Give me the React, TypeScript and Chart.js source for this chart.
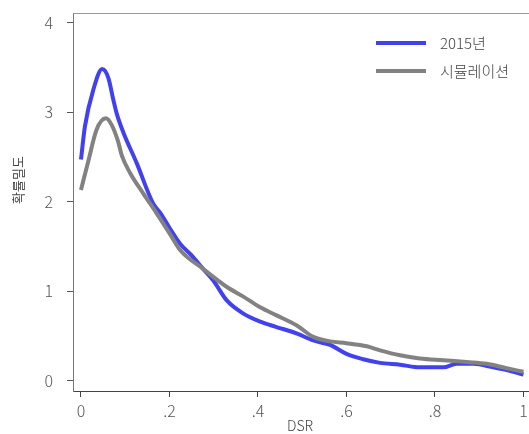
import React, { useEffect, useRef } from "react";
import { Chart, registerables } from "chart.js";

Chart.register(...registerables);

const blueX = [0, 0.009, 0.028, 0.048, 0.062, 0.073, 0.081, 0.096, 0.126, 0.163, 0.18, 0.201, 0.224, 0.25, 0.276, 0.299, 0.329, 0.367, 0.405, 0.442, 0.487, 0.525, 0.563, 0.6, 0.638, 0.676, 0.721, 0.766, 0.819, 0.849, 0.887, 0.932, 0.962, 1.0];
const blueY = [2.47, 2.84, 3.25, 3.48, 3.38, 3.14, 2.98, 2.77, 2.43, 1.98, 1.87, 1.7, 1.53, 1.4, 1.25, 1.12, 0.9, 0.75, 0.66, 0.6, 0.53, 0.45, 0.4, 0.3, 0.24, 0.2, 0.18, 0.15, 0.15, 0.19, 0.19, 0.15, 0.12, 0.07];

const simX = [0, 0.017, 0.035, 0.056, 0.069, 0.084, 0.092, 0.111, 0.141, 0.171, 0.201, 0.224, 0.276, 0.329, 0.367, 0.405, 0.442, 0.487, 0.525, 0.563, 0.6, 0.646, 0.676, 0.721, 0.766, 0.819, 0.872, 0.917, 0.962, 1.0];
const simY = [2.13, 2.46, 2.8, 2.93, 2.86, 2.67, 2.52, 2.32, 2.09, 1.87, 1.64, 1.46, 1.25, 1.05, 0.94, 0.82, 0.73, 0.62, 0.49, 0.44, 0.42, 0.385, 0.34, 0.285, 0.25, 0.23, 0.21, 0.19, 0.14, 0.1];

const xTickValues = [0, 0.2, 0.4, 0.6, 0.8, 1];
const xTickLabels = ["0", ".2", ".4", ".6", ".8", "1"];
const yTickValues = [0, 1, 2, 3, 4];
const yTickLabels = ["0", "1", "2", "3", "4"];

const seriesNames = ["2015년", "시뮬레이션"];
const xTitle = "DSR";
const yTitle = "확률밀도";

const BLUE = "#4141f0";
const GRAY = "#828282";
const FONT = "'Noto Sans CJK KR', sans-serif";
const KFONT = "'Noto Sans CJK KR', sans-serif";

export default function App() {
  const ref = useRef<HTMLCanvasElement | null>(null);
  useEffect(() => {
    if (!ref.current) return;
    const decor = {
      id: "decor",
      afterDraw(chart: any) {
        const ctx = chart.ctx;
        const a = chart.chartArea;
        ctx.save();
        ctx.fillStyle = "#fff";
        ctx.fillRect(526.5, a.top + 1, 3, a.bottom - a.top - 2);
        ctx.strokeStyle = "#9a9a9a";
        ctx.lineWidth = 1;
        ctx.beginPath();
        ctx.moveTo(a.left, a.top + 0.5);
        ctx.lineTo(a.right, a.top + 0.5);
        ctx.stroke();
        const items = [
          { c: BLUE, t: seriesNames[0], y: 43 },
          { c: GRAY, t: seriesNames[1], y: 71 },
        ];
        for (const it of items) {
          ctx.strokeStyle = it.c;
          ctx.lineWidth = 4;
          ctx.beginPath();
          ctx.moveTo(376, it.y);
          ctx.lineTo(426, it.y);
          ctx.stroke();
          ctx.fillStyle = "#444";
          ctx.font = "300 15px " + KFONT;
          ctx.textBaseline = "middle";
          ctx.textAlign = "left";
          ctx.fillText(it.t, 440, it.y);
        }
        ctx.font = "300 14px " + KFONT;
        ctx.textAlign = "center";
        ctx.textBaseline = "middle";
        ctx.fillText(xTitle, 300, 426);
        ctx.translate(18, 180);
        ctx.rotate(-Math.PI / 2);
        ctx.font = "13px " + KFONT;
        ctx.fillText(yTitle, 0, 0);
        ctx.restore();
      },
    };
    const chart = new Chart(ref.current, {
      type: "line",
      data: {
        datasets: [
          {
            label: seriesNames[1],
            data: simX.map((x, i) => ({ x, y: simY[i] })),
            borderColor: GRAY,
            borderWidth: 4,
            pointRadius: 0,
            cubicInterpolationMode: "monotone",
            fill: false,
          },
          {
            label: seriesNames[0],
            data: blueX.map((x, i) => ({ x, y: blueY[i] })),
            borderColor: BLUE,
            borderWidth: 4,
            pointRadius: 0,
            cubicInterpolationMode: "monotone",
            fill: false,
          },
        ],
      },
      options: {
        animation: false,
        responsive: false,
        layout: { padding: { top: 13, right: 0, left: 0, bottom: 0 } },
        plugins: { legend: { display: false }, tooltip: { enabled: false } },
        scales: {
          x: {
            type: "linear",
            min: -0.018,
            max: 1.0125,
            afterBuildTicks: (s: any) => {
              s.ticks = xTickValues.map((v) => ({ value: v }));
            },
            afterFit: (s: any) => {
              s.height = 43;
              s.paddingLeft = 0;
              s.paddingRight = 0;
            },
            ticks: {
              autoSkip: false,
              maxRotation: 0,
              padding: 4,
              color: "#555",
              font: { family: FONT, size: 16, weight: "300" },
              callback: (v: any) => {
                const i = xTickValues.findIndex((t) => Math.abs(t - v) < 1e-6);
                return i >= 0 ? xTickLabels[i] : "";
              },
            },
            grid: { drawOnChartArea: false, drawTicks: true, tickLength: 6, color: "#444" },
            border: { display: true, color: "#444", width: 1 },
          },
          y: {
            type: "linear",
            min: -0.114,
            max: 4.106,
            afterBuildTicks: (s: any) => {
              s.ticks = yTickValues.map((v) => ({ value: v }));
            },
            afterFit: (s: any) => {
              s.width = 73;
              s.paddingTop = 0;
              s.paddingBottom = 0;
            },
            ticks: {
              autoSkip: false,
              padding: 14,
              color: "#555",
              font: { family: FONT, size: 16, weight: "300" },
              callback: (v: any) => {
                const i = yTickValues.findIndex((t) => Math.abs(t - v) < 1e-6);
                return i >= 0 ? yTickLabels[i] : "";
              },
            },
            grid: { drawOnChartArea: false, drawTicks: true, tickLength: 6, color: "#555" },
            border: { display: true, color: "#777", width: 1 },
          },
        },
      },
      plugins: [decor],
    });
    return () => chart.destroy();
  }, []);
  return (
    <div style={{ position: "fixed", left: 0, top: 0, width: 529, height: 434, background: "#fff" }}>
      <canvas ref={ref} width={529} height={434} style={{ display: "block" }} />
    </div>
  );
}
